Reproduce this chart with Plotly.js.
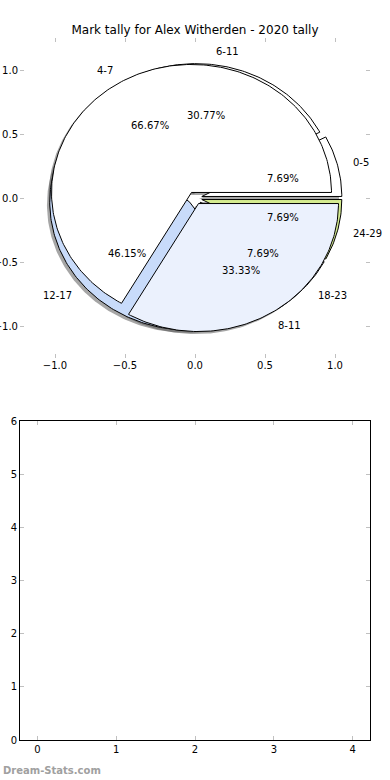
<!DOCTYPE html>
<html>
<head>
<meta charset="utf-8">
<script src="https://cdn.plot.ly/plotly-3.0.1.min.js"></script>
<style>html,body{margin:0;padding:0;background:#fff;}#chart{width:390px;height:780px;}</style>
</head>
<body>
<div id="chart"></div>
<script>
// ---- data ----
const pie1Labels = ['0-5', '6-11', '12-17', '18-23', '24-29'];
const pie1Values = [1, 4, 6, 1, 1];
const pie1Colors = ['#ffffff', '#ffffff', '#c8dbfa', '#ffffff', '#d5ec90'];
const pie2Labels = ['4-7', '8-11'];
const pie2Values = [2, 1];
const pie2Colors = ['#ffffff', '#ebf1fd'];
const pieTicks = [-1.0, -0.5, 0.0, 0.5, 1.0];
const emptyXTicks = [0, 1, 2, 3, 4];
const emptyYTicks = [0, 1, 2, 3, 4, 5, 6];
const titleText = 'Mark tally for Alex Witherden - 2020 tally';

// ---- pie geometry (matplotlib-like: start at 0 deg, counterclockwise) ----
const EXPLODE = 0.05, LABELDIST = 1.1, PCTDIST = 0.6, SHADOW = -0.02;
function wedges(values) {
  const total = values.reduce((a, b) => a + b, 0);
  let start = 0;
  return values.map(v => {
    const t1 = start, t2 = start + 360 * v / total;
    start = t2;
    const mid = (t1 + t2) / 2 * Math.PI / 180;
    const cx = EXPLODE * Math.cos(mid), cy = EXPLODE * Math.sin(mid);
    const xs = [cx], ys = [cy];
    const n = Math.max(2, Math.ceil((t2 - t1) / 1));
    for (let i = 0; i <= n; i++) {
      const a = (t1 + (t2 - t1) * i / n) * Math.PI / 180;
      xs.push(cx + Math.cos(a)); ys.push(cy + Math.sin(a));
    }
    xs.push(cx); ys.push(cy);
    return {xs, ys, cx, cy, mid, pct: (100 * v / total).toFixed(2) + '%'};
  });
}
const w1 = wedges(pie1Values), w2 = wedges(pie2Values);

const traces = [];
// shadows (below all wedges)
[w1, w2].forEach(ws => ws.forEach(w => {
  traces.push({type: 'scatter', mode: 'lines', x: w.xs.map(v => v + SHADOW), y: w.ys.map(v => v + SHADOW),
    fill: 'toself', fillcolor: 'rgba(77,77,77,0.5)', line: {width: 0, color: 'rgba(0,0,0,0)'},
    hoverinfo: 'skip', showlegend: false, xaxis: 'x', yaxis: 'y'});
}));
// wedges
[[w1, pie1Colors], [w2, pie2Colors]].forEach(([ws, cols]) => ws.forEach((w, i) => {
  traces.push({type: 'scatter', mode: 'lines', x: w.xs, y: w.ys, fill: 'toself', fillcolor: cols[i],
    line: {width: 1, color: '#000'}, hoverinfo: 'skip', showlegend: false, xaxis: 'x', yaxis: 'y'});
}));
// empty second axes anchor trace
traces.push({type: 'scatter', mode: 'markers', x: [], y: [], xaxis: 'x2', yaxis: 'y2', showlegend: false});

const font = {family: 'DejaVu Sans', size: 10, color: '#000'};
const annotations = [];
[[w1, pie1Labels], [w2, pie2Labels]].forEach(([ws, labs]) => ws.forEach((w, i) => {
  const lx = w.cx + LABELDIST * Math.cos(w.mid), ly = w.cy + LABELDIST * Math.sin(w.mid);
  annotations.push({x: lx, y: ly, xref: 'x', yref: 'y', text: labs[i], showarrow: false,
    xanchor: lx > 0 ? 'left' : 'right', yanchor: 'middle', font: font});
  const px = w.cx + PCTDIST * Math.cos(w.mid), py = w.cy + PCTDIST * Math.sin(w.mid);
  annotations.push({x: px, y: py, xref: 'x', yref: 'y', text: w.pct, showarrow: false,
    xanchor: 'center', yanchor: 'middle', font: font});
}));
annotations.push({xref: 'paper', yref: 'paper', x: -19.5 / 350.5, y: (740 - 770) / 702, xanchor: 'left', yanchor: 'middle',
  text: 'Dream-Stats.com', showarrow: false, font: {family: 'DejaVu Sans', size: 10, color: '#a0a0a0', weight: 'bold'}});

const tickCommon = {showgrid: false, zeroline: false, ticks: 'inside', ticklen: 4, tickwidth: 1, tickcolor: '#c0c0c0',
  tickfont: font, fixedrange: true};

const layout = {
  width: 390, height: 780,
  margin: {l: 19.5, r: 20, t: 38, b: 40, pad: 0},
  paper_bgcolor: '#fff', plot_bgcolor: 'rgba(0,0,0,0)',
  showlegend: false,
  title: {text: titleText, x: 0.5, xanchor: 'center', y: 1 - 30 / 780, yanchor: 'middle', yref: 'container',
    font: {family: 'DejaVu Sans', size: 12, color: '#000'}},
  xaxis: Object.assign({}, tickCommon, {domain: [0, 1], anchor: 'y', range: [-1.25, 1.25], tickvals: pieTicks,
    tickformat: '.1f', showline: false, mirror: 'ticks'}),
  yaxis: Object.assign({}, tickCommon, {domain: [382 / 702, 1], anchor: 'x', range: [-1.25, 1.25], tickvals: pieTicks,
    tickformat: '.1f', showline: false, mirror: 'ticks', ticklabelstandoff: 1}),
  xaxis2: Object.assign({}, tickCommon, {domain: [0, 1], anchor: 'y2', range: [-0.22, 4.22], tickvals: emptyXTicks,
    showline: true, linecolor: '#000', linewidth: 1, mirror: 'ticks'}),
  yaxis2: Object.assign({}, tickCommon, {domain: [0, 319 / 702], anchor: 'x2', range: [0, 6], tickvals: emptyYTicks,
    showline: true, linecolor: '#000', linewidth: 1, mirror: 'ticks'}),
  annotations: annotations
};

Plotly.newPlot('chart', traces, layout, {displayModeBar: false, staticPlot: true});
</script>
</body>
</html>
